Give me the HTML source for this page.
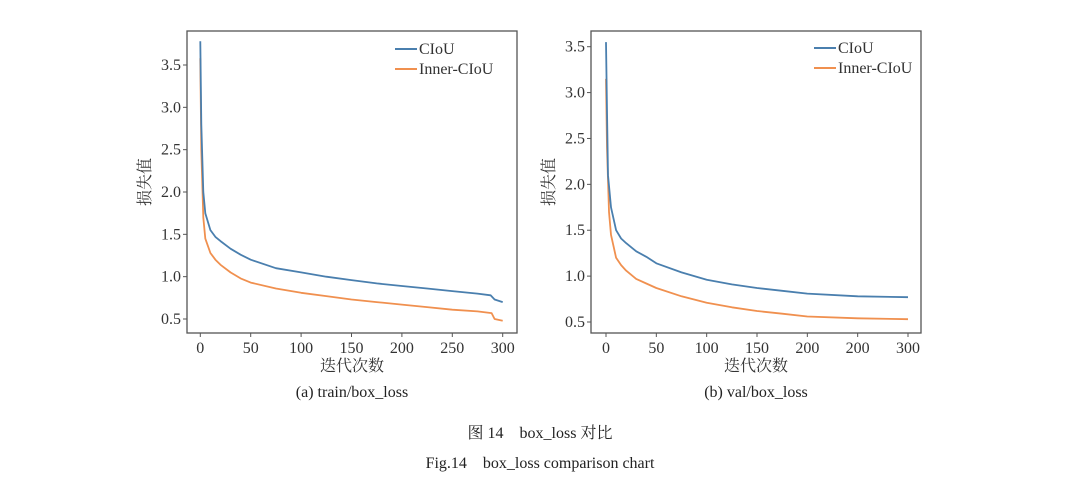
<!DOCTYPE html>
<html><head><meta charset="utf-8">
<style>
html,body{margin:0;padding:0;background:#fff;}
svg{display:block;font-family:"Liberation Serif","Noto Serif CJK SC",serif;}
</style></head>
<body>
<svg id="fig" width="1080" height="483" viewBox="0 0 1080 483" xmlns="http://www.w3.org/2000/svg">
<text x="540" y="438" font-size="16" text-anchor="middle" fill="#222">图 14　box_loss 对比</text>
<text x="540" y="468" font-size="16" text-anchor="middle" fill="#222">Fig.14　box_loss comparison chart</text>
</svg>
<script>
// Left chart data (train/box_loss)
const trainEpochs = [0,1,3,5,10,15,20,30,40,50,75,100,125,150,175,200,225,250,275,288,292,300];
const trainCIoU   = [3.78,2.8,2.0,1.75,1.55,1.47,1.42,1.33,1.26,1.20,1.10,1.05,1.00,0.96,0.92,0.89,0.86,0.83,0.80,0.78,0.73,0.70];
const trainInnerEpochs = [0,1,3,5,10,15,20,30,40,50,75,100,125,150,175,200,225,250,275,289,292,300];
const trainInner  = [3.58,2.5,1.7,1.45,1.28,1.2,1.14,1.05,0.98,0.93,0.86,0.81,0.77,0.73,0.70,0.67,0.64,0.61,0.59,0.57,0.50,0.48];
// Right chart data (val/box_loss)
const valEpochs = [0,1,2,5,10,15,20,30,40,50,75,100,125,150,175,200,250,300];
const valCIoU   = [3.55,2.8,2.1,1.75,1.5,1.41,1.36,1.27,1.21,1.14,1.04,0.96,0.91,0.87,0.84,0.81,0.78,0.77];
const valInnerEpochs = [0,1,3,5,10,15,20,30,40,50,75,100,125,150,175,200,250,300];
const valInner  = [3.15,2.4,1.7,1.45,1.2,1.12,1.06,0.97,0.92,0.87,0.78,0.71,0.66,0.62,0.59,0.56,0.54,0.53];
const xTicks = [0,50,100,150,200,250,300];
const leftXTickLabels = ["0","50","100","150","200","250","300"];
const rightXTickLabels = ["0","50","100","150","200","200","300"];
const yTicks = [0.5,1.0,1.5,2.0,2.5,3.0,3.5];
const yTickLabels = ["0.5","1.0","1.5","2.0","2.5","3.0","3.5"];
const seriesNames = ["CIoU","Inner-CIoU"];

const NS="http://www.w3.org/2000/svg";
const svg=document.getElementById('fig');
function mk(tag,attrs,parent){const e=document.createElementNS(NS,tag);for(const k in attrs)e.setAttribute(k,attrs[k]);(parent||svg).appendChild(e);return e;}

function chart(cfg){
  const g=mk('g',{});
  
  
  const xs=v=>cfg.x0+(v-0)*(cfg.x300-cfg.x0)/300;
  const ys=v=>cfg.y05+(v-0.5)*(cfg.y35-cfg.y05)/3;
  const frame=mk('rect',{x:cfg.L,y:cfg.T,width:cfg.R-cfg.L,height:cfg.B-cfg.T,fill:'none',stroke:'#555','stroke-width':1.3},g);
  
  
  xTicks.forEach((t,i)=>{
    const x=xs(t);
    mk('line',{x1:x,x2:x,y1:cfg.B,y2:cfg.B+4,stroke:'#555'},g);
    const tx=mk('text',{x:x,y:cfg.B+20,'font-size':16,'text-anchor':'middle',fill:'#333'},g);
    tx.textContent=cfg.xl[i];
    
    
  });
  yTicks.forEach((t,i)=>{
    const y=ys(t);
    mk('line',{x1:cfg.L-4,x2:cfg.L,y1:y,y2:y,stroke:'#555'},g);
    const tx=mk('text',{x:cfg.L-6,y:y+5,'font-size':16,'text-anchor':'end',fill:'#333'},g);
    tx.textContent=yTickLabels[i];
    
    
  });
  const cols=['#4a7fae','#f0904f'];
  const sets=[[cfg.e1,cfg.d1],[cfg.e2,cfg.d2]];
  [1,0].forEach(k=>{
    const [e,d]=sets[k];
    const p=mk('polyline',{points:e.map((v,i)=>xs(v).toFixed(1)+','+ys(d[i]).toFixed(1)).join(' '),fill:'none',stroke:cols[k],'stroke-width':1.8,'stroke-linejoin':'round'},g);
    
    
  });
  seriesNames.forEach((n,k)=>{
    const y=cfg.legY+k*20;
    mk('line',{x1:cfg.legX,x2:cfg.legX+22,y1:y,y2:y,stroke:cols[k],'stroke-width':2},g);
    const tx=mk('text',{x:cfg.legX+24,y:y+5,'font-size':16,fill:'#333'},g);
    tx.textContent=n;
    
    
  });
  const xl=mk('text',{x:(cfg.L+cfg.R)/2,y:371,'font-size':16,'text-anchor':'middle',fill:'#333'},g);
  xl.textContent='迭代次数';
  
  
  const yl=mk('text',{x:0,y:0,'font-size':16,'text-anchor':'middle',fill:'#333',transform:`translate(${cfg.yTitleX},${(cfg.T+cfg.B)/2}) rotate(-90)`},g);
  yl.textContent='损失值';
  
  
  const cap=mk('text',{x:(cfg.L+cfg.R)/2,y:397,'font-size':16,'text-anchor':'middle',fill:'#222'},g);
  cap.textContent=cfg.cap;
  
  
}
chart({name:'train-loss-chart',L:187,R:517,T:31,B:333,x0:200.3,x300:502.7,y05:319,y35:65,
  e1:trainEpochs,d1:trainCIoU,e2:trainInnerEpochs,d2:trainInner,xl:leftXTickLabels,
  legX:395,legY:49,yTitleX:150,cap:'(a) train/box_loss'});
chart({name:'val-loss-chart',L:591,R:921,T:31,B:333,x0:606,x300:908,y05:322,y35:46.7,
  e1:valEpochs,d1:valCIoU,e2:valInnerEpochs,d2:valInner,xl:rightXTickLabels,
  legX:814,legY:48,yTitleX:554,cap:'(b) val/box_loss'});
</script>
</body></html>
